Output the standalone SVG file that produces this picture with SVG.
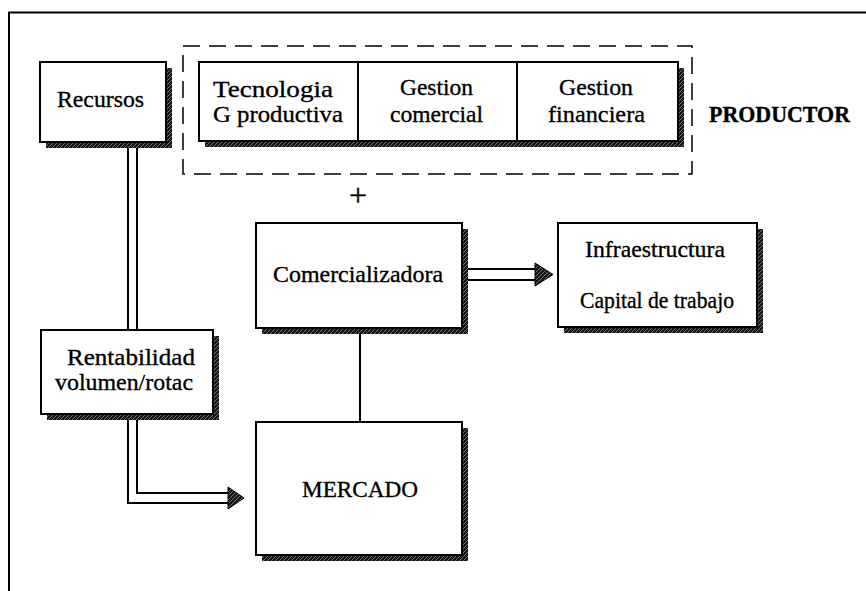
<svg xmlns="http://www.w3.org/2000/svg" width="866" height="591" viewBox="0 0 866 591">
  <defs>
    <!-- dark speckled fill used for drop shadows and arrowheads -->
    <pattern id="hatch" width="4" height="4" patternUnits="userSpaceOnUse">
      <rect width="4" height="4" fill="#151515"/>
      <path d="M0,4 L4,0" stroke="#9a9a9a" stroke-width="0.7"/>
    </pattern>
    <style>
      .box{fill:#fff;stroke:#000;stroke-width:2}
      .shadow{fill:url(#hatch)}
      .line{fill:none;stroke:#000;stroke-width:2}
      .dash{fill:none;stroke:#000;stroke-width:1.5;stroke-dasharray:17 9}
      .head{fill:url(#hatch);stroke:#000;stroke-width:1}
      text{font-family:"Liberation Serif","Times New Roman",serif;fill:#000;stroke:#000;stroke-width:0.35}
    </style>
  </defs>
  <rect width="866" height="591" fill="#fff"/>

  <!-- outer frame -->
  <path d="M9,591 V12.5 H866" fill="none" stroke="#000" stroke-width="2"/>

  <!-- connectors -->
  <g id="connectors">
    <!-- Recursos to Rentabilidad (double line) -->
    <line class="line" x1="128" y1="148" x2="128" y2="330"/>
    <line class="line" x1="137" y1="148" x2="137" y2="330"/>
    <!-- Rentabilidad to MERCADO (double line with arrowhead) -->
    <path class="line" d="M128,420 V503 H230"/>
    <path class="line" d="M137,420 V493 H230"/>
    <polygon class="head" points="228,487 244,498 228,509"/>
    <!-- Comercializadora to Infraestructura (double line with arrowhead) -->
    <line class="line" x1="468" y1="269" x2="537" y2="269"/>
    <line class="line" x1="468" y1="280" x2="537" y2="280"/>
    <polygon class="head" points="535,263 553,274.5 535,286"/>
    <!-- Comercializadora to MERCADO -->
    <line class="line" x1="360" y1="334" x2="360" y2="422"/>
  </g>

  <g id="recursos" font-size="24">
    <rect class="shadow" x="46" y="68" width="126" height="80"/>
    <rect class="box" x="40" y="62" width="126" height="80"/>
    <text x="57" y="107" textLength="87" lengthAdjust="spacingAndGlyphs">Recursos</text>
  </g>

  <g id="productor">
    <rect class="dash" x="183" y="46" width="509" height="128"/>
    <rect class="shadow" x="205" y="68" width="479" height="79"/>
    <text x="709" y="122" font-size="24" font-weight="bold" textLength="141" lengthAdjust="spacingAndGlyphs">PRODUCTOR</text>
  </g>

  <g id="tecnologia" font-size="24">
    <rect class="box" x="199" y="62" width="159" height="79"/>
    <text x="213" y="97" textLength="120" lengthAdjust="spacingAndGlyphs">Tecnologia</text>
    <text x="213" y="122" textLength="130" lengthAdjust="spacingAndGlyphs">G  productiva</text>
  </g>

  <g id="gestion-comercial" font-size="24">
    <rect class="box" x="358" y="62" width="159" height="79"/>
    <text x="400" y="95" textLength="73" lengthAdjust="spacingAndGlyphs">Gestion</text>
    <text x="390" y="122" textLength="93" lengthAdjust="spacingAndGlyphs">comercial</text>
  </g>

  <g id="gestion-financiera" font-size="24">
    <rect class="box" x="517" y="62" width="161" height="79"/>
    <text x="559" y="95" textLength="74" lengthAdjust="spacingAndGlyphs">Gestion</text>
    <text x="548" y="122" textLength="97" lengthAdjust="spacingAndGlyphs">financiera</text>
  </g>

  <g id="plus">
    <text x="358" y="206" font-size="32" stroke-width="1.2" text-anchor="middle">+</text>
  </g>

  <g id="comercializadora" font-size="24">
    <rect class="shadow" x="262" y="229" width="206" height="105"/>
    <rect class="box" x="256" y="223" width="206" height="105"/>
    <text x="273" y="282" textLength="170" lengthAdjust="spacingAndGlyphs">Comercializadora</text>
  </g>

  <g id="infraestructura" font-size="24">
    <rect class="shadow" x="564" y="229" width="199" height="104"/>
    <rect class="box" x="558" y="223" width="199" height="104"/>
    <text x="585" y="257" textLength="140" lengthAdjust="spacingAndGlyphs">Infraestructura</text>
    <text x="580" y="308" textLength="154" lengthAdjust="spacingAndGlyphs">Capital de trabajo</text>
  </g>

  <g id="rentabilidad" font-size="24">
    <rect class="shadow" x="47" y="336" width="172" height="84"/>
    <rect class="box" x="41" y="330" width="172" height="84"/>
    <text x="67" y="365" textLength="128" lengthAdjust="spacingAndGlyphs">Rentabilidad</text>
    <text x="55" y="390" textLength="138" lengthAdjust="spacingAndGlyphs">volumen/rotac</text>
  </g>

  <g id="mercado" font-size="24">
    <rect class="shadow" x="262" y="428" width="206" height="133"/>
    <rect class="box" x="256" y="422" width="206" height="133"/>
    <text x="302" y="497" textLength="116" lengthAdjust="spacingAndGlyphs">MERCADO</text>
  </g>
</svg>
